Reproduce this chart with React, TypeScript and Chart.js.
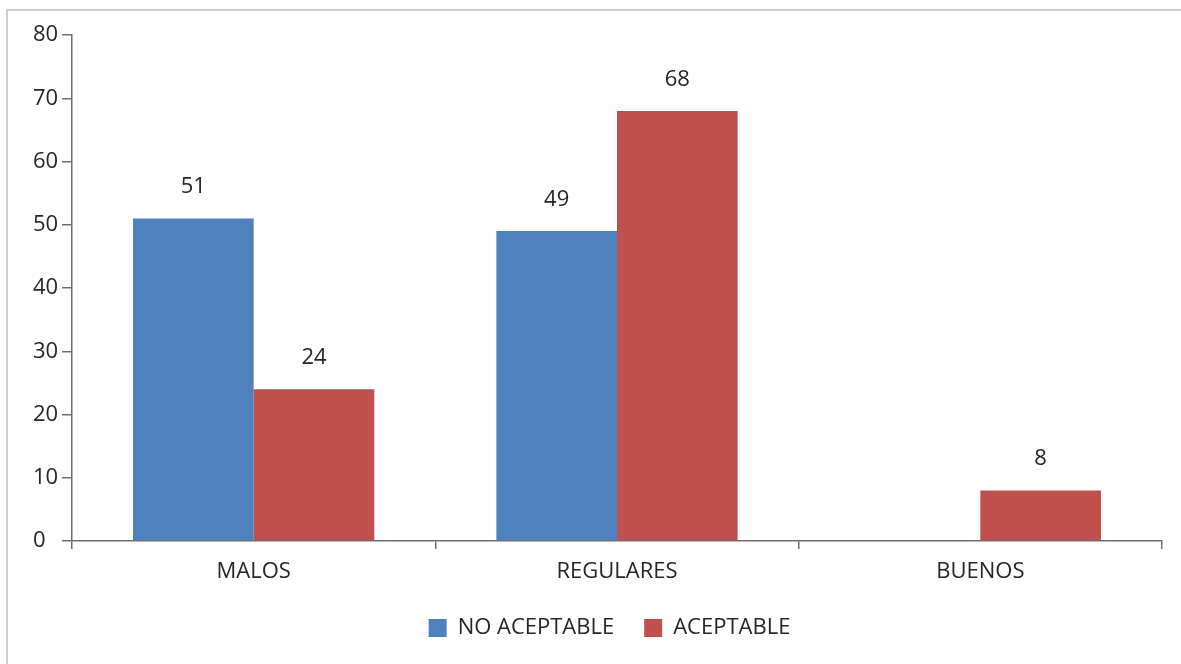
import React, { useEffect, useRef } from "react";
import { Chart, registerables } from "chart.js";

Chart.register(...registerables);

const categories = ["MALOS", "REGULARES", "BUENOS"];
const noAceptable = [51, 49, 0];
const aceptable = [24, 68, 8];
const seriesNames = ["NO ACEPTABLE", "ACEPTABLE"];
const yTicks = [0, 10, 20, 30, 40, 50, 60, 70, 80];

const FONT = "'Open Sans', 'DejaVu Sans', sans-serif";
const TEXT = "#262626";
const AXIS = "#6e6e6e";
const FS = 22;

const valueLabels = {
  id: "valueLabels",
  afterDatasetsDraw(chart: any) {
    const ctx = chart.ctx;
    ctx.save();
    ctx.font = `${FS}px ${FONT}`;
    ctx.fillStyle = TEXT;
    ctx.textAlign = "center";
    ctx.textBaseline = "alphabetic";
    chart.data.datasets.forEach((ds: any, di: number) => {
      const meta = chart.getDatasetMeta(di);
      meta.data.forEach((el: any, i: number) => {
        const v = ds.data[i];
        if (!v) return;
        ctx.fillText(String(v), el.x, el.y - 25);
      });
    });
    ctx.restore();
  },
};

const legendShift = {
  id: "legendShift",
  afterLayout(chart: any) {
    const dx = 12;
    const dy = -15;
    const lg = chart.legend;
    if (lg) {
      lg.left += dx;
      lg.right += dx;
      lg.top += dy;
      lg.bottom += dy;
    }
  },
};

export default function App() {
  const ref = useRef<HTMLCanvasElement>(null);
  useEffect(() => {
    if (!ref.current) return;
    const chart = new Chart(ref.current, {
      type: "bar",
      data: {
        labels: categories,
        datasets: [
          {
            label: seriesNames[0],
            data: noAceptable,
            backgroundColor: "#4F81BD",
            borderWidth: 0,
            categoryPercentage: 0.664,
            barPercentage: 1,
          },
          {
            label: seriesNames[1],
            data: aceptable,
            backgroundColor: "#C0504D",
            borderWidth: 0,
            categoryPercentage: 0.664,
            barPercentage: 1,
          },
        ],
      },
      options: {
        animation: false,
        responsive: false,
        maintainAspectRatio: false,
        layout: { padding: { left: 33, right: 19, top: 35, bottom: 0 } },
        plugins: {
          legend: {
            position: "bottom",
            labels: {
              boxWidth: 18,
              boxHeight: 18,
              padding: 30,
              color: TEXT,
              font: { family: FONT, size: FS },
            },
          },
          tooltip: { enabled: false },
        },
        scales: {
          x: {
            offset: true,
            grid: {
              offset: true,
              drawOnChartArea: false,
              drawTicks: true,
              tickLength: 8,
              color: AXIS,
              lineWidth: 1.5,
            },
            border: { color: AXIS, width: 1.5 },
            ticks: {
              color: TEXT,
              font: { family: FONT, size: FS },
              padding: 10,
              maxRotation: 0,
            },
            afterFit(scale: any) {
              scale.height = 61;
            },
          },
          y: {
            min: 0,
            max: 80,
            afterBuildTicks(scale: any) {
              scale.ticks = yTicks.map((v) => ({ value: v }));
            },
            grid: {
              drawOnChartArea: false,
              drawTicks: true,
              tickLength: 10,
              color: AXIS,
              lineWidth: 1.5,
            },
            border: { color: AXIS, width: 1.5 },
            ticks: {
              color: TEXT,
              font: { family: FONT, size: FS },
              padding: 3,
              crossAlign: "far",
            },
            afterFit(scale: any) {
              scale.width = 39;
            },
          },
        },
      },
      plugins: [valueLabels, legendShift],
    });
    return () => chart.destroy();
  }, []);

  return (
    <div
      style={{
        position: "fixed",
        left: 0,
        top: 0,
        width: 1181,
        height: 664,
        overflow: "hidden",
        background: "#fff",
      }}
    >
      <div
        style={{
          position: "absolute",
          left: 6,
          top: 9,
          width: 1300,
          height: 800,
          borderLeft: "2px solid #cfcfcf",
          borderTop: "2px solid #cfcfcf",
        }}
      />
      <canvas
        ref={ref}
        width={1181}
        height={664}
        style={{ position: "absolute", left: 0, top: 0, width: 1181, height: 664 }}
      />
    </div>
  );
}
